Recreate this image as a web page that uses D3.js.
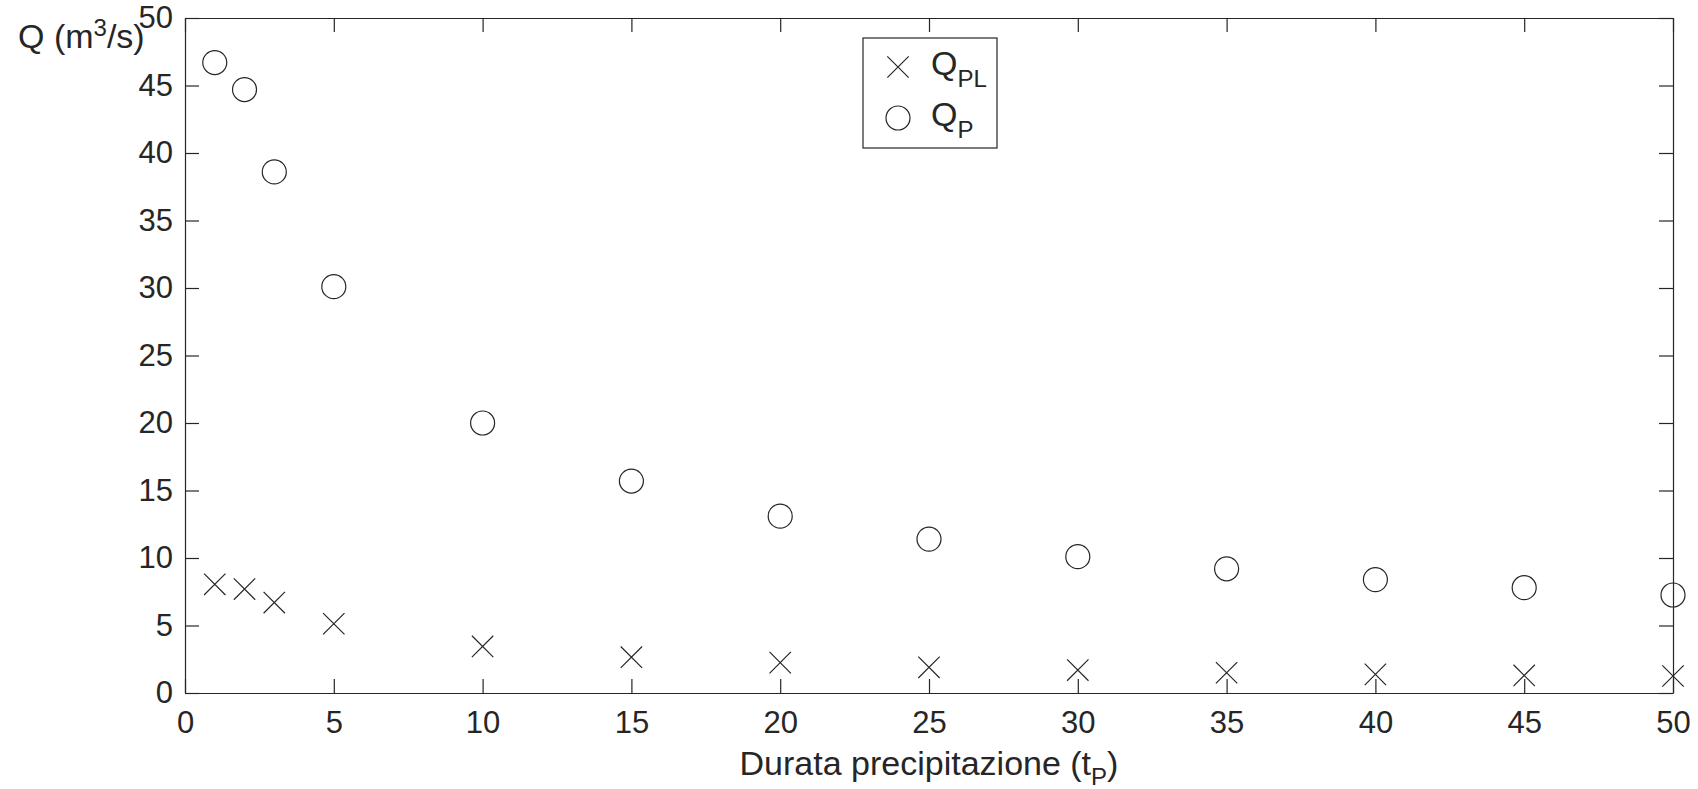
<!DOCTYPE html>
<html>
<head>
<meta charset="utf-8">
<script src="https://cdn.jsdelivr.net/npm/d3@7"></script>
<style>
  body { margin: 0; background: #fff; }
  svg { display: block; font-family: "Liberation Sans", Arial, Helvetica, sans-serif; }
</style>
</head>
<body>
<svg id="chart" width="1698" height="789"></svg>
<script>
// durations (x) and the two discharge series
const durations = [1, 2, 3, 5, 10, 15, 20, 25, 30, 35, 40, 45, 50];
const qP  = [46.7, 44.7, 38.6, 30.1, 20.0, 15.7, 13.1, 11.4, 10.1, 9.2, 8.4, 7.8, 7.26];
const qPL = [8.05, 7.7, 6.7, 5.13, 3.45, 2.65, 2.25, 1.9, 1.7, 1.5, 1.38, 1.3, 1.26];
const xTicks = [0, 5, 10, 15, 20, 25, 30, 35, 40, 45, 50];
const yTicks = [0, 5, 10, 15, 20, 25, 30, 35, 40, 45, 50];

const ink = "#262626";
const svg = d3.select("#chart");
const margin = { top: 18, right: 25, bottom: 96, left: 185 };
const width = 1698 - margin.left - margin.right;
const height = 789 - margin.top - margin.bottom;

const g = svg.append("g")
    .attr("transform", `translate(${margin.left}, ${margin.top})`);

const x = d3.scaleLinear().domain([0, 50]).range([0, width]);
const y = d3.scaleLinear().domain([0, 50]).range([height, 0]);

const tick = 14;

// axes, ticks pointing inward like the original
function styleAxis(sel) {
    sel.selectAll("path, line").attr("stroke", ink).attr("stroke-width", 1.2);
    sel.selectAll("text").attr("fill", ink).attr("font-size", 31);
}

g.append("g")
    .attr("transform", `translate(0, ${height})`)
    .call(d3.axisBottom(x).tickValues(xTicks).tickSizeInner(-tick).tickSizeOuter(0).tickPadding(18))
    .call(styleAxis);
g.append("g")
    .call(d3.axisLeft(y).tickValues(yTicks).tickSizeInner(-tick).tickSizeOuter(0).tickPadding(12))
    .call(styleAxis);
g.append("g")
    .call(d3.axisTop(x).tickValues(xTicks).tickSizeInner(-tick).tickSizeOuter(0).tickFormat(""))
    .call(styleAxis);
g.append("g")
    .attr("transform", `translate(${width}, 0)`)
    .call(d3.axisRight(y).tickValues(yTicks).tickSizeInner(-tick).tickSizeOuter(0).tickFormat(""))
    .call(styleAxis);

// circles for Q_P
g.selectAll(".qp")
    .data(durations.map((d, i) => [d, qP[i]]))
    .enter().append("circle")
    .attr("class", "qp")
    .attr("cx", d => x(d[0]))
    .attr("cy", d => y(d[1]))
    .attr("r", 12)
    .attr("fill", "none")
    .attr("stroke", ink)
    .attr("stroke-width", 1.2);

// crosses for Q_PL
const cross = d3.symbol().type(d3.symbolX).size(300);
g.selectAll(".qpl")
    .data(durations.map((d, i) => [d, qPL[i]]))
    .enter().append("path")
    .attr("class", "qpl")
    .attr("transform", d => `translate(${x(d[0])}, ${y(d[1])})`)
    .attr("d", cross)
    .attr("fill", "none")
    .attr("stroke", ink)
    .attr("stroke-width", 1.2);

// axis labels
const xl = svg.append("text")
    .attr("x", margin.left + width / 2)
    .attr("y", 775)
    .attr("text-anchor", "middle")
    .attr("font-size", 34)
    .attr("fill", ink);
xl.append("tspan").text("Durata precipitazione (t");
xl.append("tspan").attr("font-size", 24).attr("dy", 10).text("P");
xl.append("tspan").attr("dy", -10).text(")");

const yl = svg.append("text")
    .attr("x", 18)
    .attr("y", 48)
    .attr("font-size", 34)
    .attr("fill", ink);
yl.append("tspan").text("Q (m");
yl.append("tspan").attr("font-size", 24).attr("dy", -12).text("3");
yl.append("tspan").attr("dy", 12).text("/s)");

// legend
const legend = svg.append("g").attr("transform", "translate(863, 38)");
legend.append("rect")
    .attr("width", 134).attr("height", 110)
    .attr("fill", "#fff").attr("stroke", ink).attr("stroke-width", 1.2);
legend.append("path")
    .attr("transform", "translate(35, 29)")
    .attr("d", cross)
    .attr("fill", "none").attr("stroke", ink).attr("stroke-width", 1.2);
legend.append("circle")
    .attr("cx", 35).attr("cy", 80).attr("r", 12)
    .attr("fill", "none").attr("stroke", ink).attr("stroke-width", 1.2);

const lt1 = legend.append("text").attr("x", 68).attr("y", 37).attr("font-size", 34).attr("fill", ink);
lt1.append("tspan").text("Q");
lt1.append("tspan").attr("font-size", 24).attr("dy", 12).text("PL");
const lt2 = legend.append("text").attr("x", 68).attr("y", 88).attr("font-size", 34).attr("fill", ink);
lt2.append("tspan").text("Q");
lt2.append("tspan").attr("font-size", 24).attr("dy", 12).text("P");
</script>
</body>
</html>
